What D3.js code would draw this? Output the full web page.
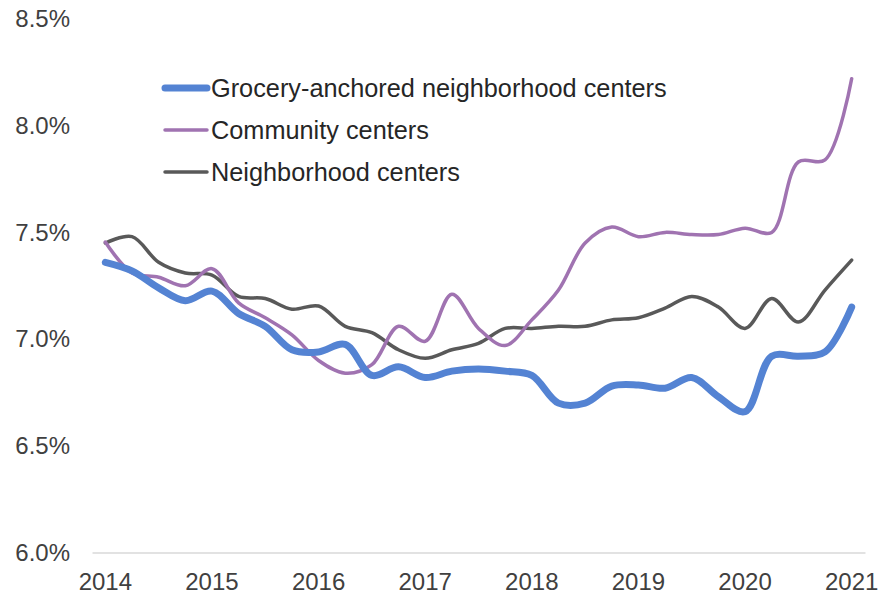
<!DOCTYPE html>
<html>
<head>
<meta charset="utf-8">
<script src="https://cdn.jsdelivr.net/npm/d3@7"></script>
<style>
  html, body { margin: 0; padding: 0; background: #fff; }
  svg { display: block; font-family: "Liberation Sans", Arial, sans-serif; }
</style>
</head>
<body>
<svg id="chart" width="881" height="597"></svg>
<script>
// Quarterly periods, 2014 Q1 through 2021 Q1
const quarters = [];
for (let y = 2014; y <= 2021; y++) {
  for (let q = 1; q <= 4; q++) {
    if (y === 2021 && q > 1) break;
    quarters.push(y + " Q" + q);
  }
}
const yearLabels = ["2014", "2015", "2016", "2017", "2018", "2019", "2020", "2021"];
const yTicks = [6.0, 6.5, 7.0, 7.5, 8.0, 8.5];

// Cap rates (%) by quarter
const grocery = [7.36, 7.32, 7.24, 7.18, 7.225, 7.12, 7.06, 6.95, 6.94, 6.975,
                 6.83, 6.87, 6.82, 6.85, 6.86, 6.85, 6.83, 6.70, 6.70, 6.78,
                 6.785, 6.77, 6.82, 6.73, 6.66, 6.92, 6.92, 6.94, 7.15];
const community = [7.455, 7.31, 7.29, 7.25, 7.33, 7.17, 7.10, 7.02, 6.90, 6.84,
                   6.88, 7.06, 6.99, 7.21, 7.05, 6.97, 7.09, 7.23, 7.45, 7.525,
                   7.48, 7.50, 7.49, 7.49, 7.52, 7.50, 7.83, 7.84, 8.22];
const neighborhood = [7.45, 7.48, 7.36, 7.31, 7.30, 7.20, 7.19, 7.14, 7.155, 7.06,
                      7.03, 6.95, 6.91, 6.95, 6.98, 7.05, 7.05, 7.06, 7.06, 7.09,
                      7.10, 7.145, 7.20, 7.15, 7.05, 7.19, 7.08, 7.23, 7.37];

const seriesNames = ["Grocery-anchored neighborhood centers", "Community centers", "Neighborhood centers"];
const seriesColors = ["#5483D3", "#A073B1", "#595959"];
const seriesWidths = [7, 3.5, 3.5];
const seriesValues = [grocery, community, neighborhood];

const svg = d3.select("#chart");

const x = d3.scaleBand().domain(quarters).range([92, 865]).padding(0);
const y = d3.scaleLinear().domain([6.0, 8.5]).range([552.5, 19]);
const cx = q => x(q) + x.bandwidth() / 2;

// x axis: baseline plus a year label on each first quarter
const xAxis = d3.axisBottom(x)
  .tickValues(quarters.filter(q => q.endsWith("Q1")))
  .tickFormat(q => q.slice(0, 4))
  .tickSize(0)
  .tickSizeOuter(0)
  .tickPadding(20);
const gx = svg.append("g").attr("transform", "translate(0," + y(6.0) + ")").call(xAxis);
gx.select(".domain").attr("stroke", "#d9d9d9").attr("stroke-width", 1.5);
gx.selectAll("text").attr("fill", "#404040").style("font-size", "24px");

// y axis labels only
const yAxis = d3.axisLeft(y)
  .tickValues(yTicks)
  .tickFormat(d => d.toFixed(1) + "%")
  .tickSize(0)
  .tickPadding(0);
const gy = svg.append("g").attr("transform", "translate(70,0)").call(yAxis);
gy.select(".domain").remove();
gy.selectAll("text").attr("fill", "#404040").style("font-size", "24px");

// smoothed lines, drawn back to front
const line = d3.line()
  .x((d, i) => cx(quarters[i]))
  .y(d => y(d))
  .curve(d3.curveCatmullRom.alpha(0.5));

[2, 1, 0].forEach(k => {
  svg.append("path")
    .datum(seriesValues[k])
    .attr("fill", "none")
    .attr("stroke", seriesColors[k])
    .attr("stroke-width", seriesWidths[k])
    .attr("stroke-linecap", "round")
    .attr("stroke-linejoin", "round")
    .attr("d", line);
});

// legend
const legend = svg.append("g").attr("transform", "translate(163,88)");
seriesNames.forEach((name, i) => {
  const row = legend.append("g").attr("transform", "translate(0," + (i * 42) + ")");
  row.append("line")
    .attr("x1", 2).attr("x2", 44).attr("y1", 0).attr("y2", 0)
    .attr("stroke", seriesColors[i])
    .attr("stroke-width", seriesWidths[i])
    .attr("stroke-linecap", "round");
  row.append("text")
    .attr("x", 48).attr("y", 0).attr("dy", "0.36em")
    .attr("fill", "#262626")
    .style("font-size", "25.3px")
    .text(name);
});
</script>
</body>
</html>
